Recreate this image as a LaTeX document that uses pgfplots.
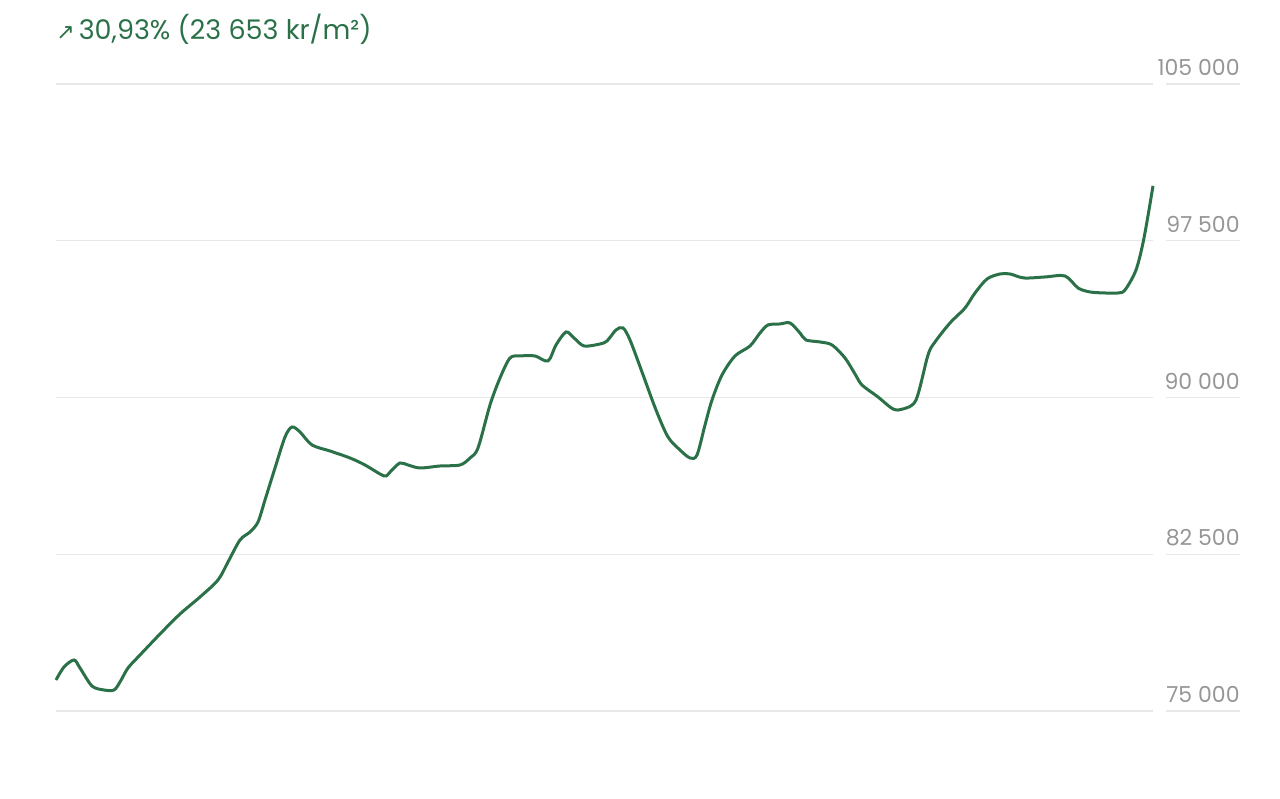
\documentclass[border=0pt]{standalone}
\usepackage{pgfplots}
\pgfplotsset{compat=1.18}
\usepackage{fontspec}
\setmainfont{Poppins}
\newfontfamily\symfont{DejaVu Sans}
\definecolor{linegreen}{RGB}{43,113,72}
\definecolor{gridgray}{RGB}{232,232,232}
\definecolor{labgray}{RGB}{150,150,150}
\begin{document}
\begin{tikzpicture}
\path[use as bounding box] (-28pt,-43.5pt) rectangle (612pt,355.5pt);
\begin{axis}[
  at={(0,0)}, anchor=south west,
  scale only axis, width=592pt, height=313.5pt,
  xmin=56, xmax=1240, ymin=75000, ymax=105000,
  axis line style={draw=none},
  major tick style={draw=none},
  xtick=\empty,
  scaled y ticks=false,
  ytick={75000,82500,90000,97500,105000},
  yticklabels={75 000,82 500,90 000,97 500,105 000},
  yticklabel pos=right,
  yticklabel style={anchor=south east, xshift=0pt, yshift=4pt, font=\fontsize{11}{12}\selectfont, text=labgray, inner sep=0pt},
  clip=false,
  unbounded coords=jump,
]
\addplot[gridgray, line width=0.6pt] coordinates {
(56,75000) (1153,75000) (nan,nan) (1166,75000) (1240,75000) (nan,nan)
(56,82500) (1153,82500) (nan,nan) (1166,82500) (1240,82500) (nan,nan)
(56,90000) (1153,90000) (nan,nan) (1166,90000) (1240,90000) (nan,nan)
(56,97500) (1153,97500) (nan,nan) (1166,97500) (1240,97500) (nan,nan)
(56,105000) (1153,105000) (nan,nan) (1166,105000) (1240,105000)
};
\addplot[linegreen, line width=1.5pt, smooth, tension=0.5] coordinates {
(56,76483) (64,77105) (74,77440) (80,77058) (92,76196) (104,76005) (114,76005)
(120,76388) (128,77058) (140,77680) (160,78684) (180,79641) (200,80455)
(218,81268) (228,82130) (240,83182) (250,83565) (258,84043) (265,85096)
(275,86627) (285,88111) (292,88589) (300,88350) (312,87728) (330,87441)
(350,87106) (365,86771) (380,86340) (386,86245) (392,86532) (400,86867)
(408,86771) (420,86627) (440,86723) (460,86771) (470,87106) (478,87585)
(490,89642) (500,90934) (510,91891) (520,91987) (535,91987) (548,91748)
(556,92513) (566,93135) (574,92848) (584,92465) (600,92561) (607,92705)
(616,93231) (623,93327) (630,92752) (642,91221) (656,89403) (668,88111)
(680,87489) (690,87106) (697,87250) (705,88685) (712,89881) (722,91078)
(735,91987) (750,92465) (760,93087) (768,93470) (780,93518) (790,93566)
(800,93087) (806,92752) (820,92657) (832,92513) (845,91891) (855,91125)
(862,90599) (878,90025) (893,89451) (903,89451) (916,89881) (928,92035)
(935,92657) (950,93566) (965,94284) (975,95001) (987,95671) (1000,95910)
(1010,95910) (1024,95719) (1045,95767) (1065,95815) (1078,95241) (1090,95049)
(1105,95001) (1118,95001) (1125,95145) (1136,96102) (1144,97633) (1153,100126)
};
\end{axis}
\node[anchor=base west, inner sep=0pt, text=linegreen, font=\fontsize{13.5}{15}\selectfont] at (0pt,335.5pt) {{\symfont\fontsize{11}{12}\selectfont ↗}\hspace{2pt}30,93\% (23 653 kr/m²)};
\end{tikzpicture}
\end{document}
